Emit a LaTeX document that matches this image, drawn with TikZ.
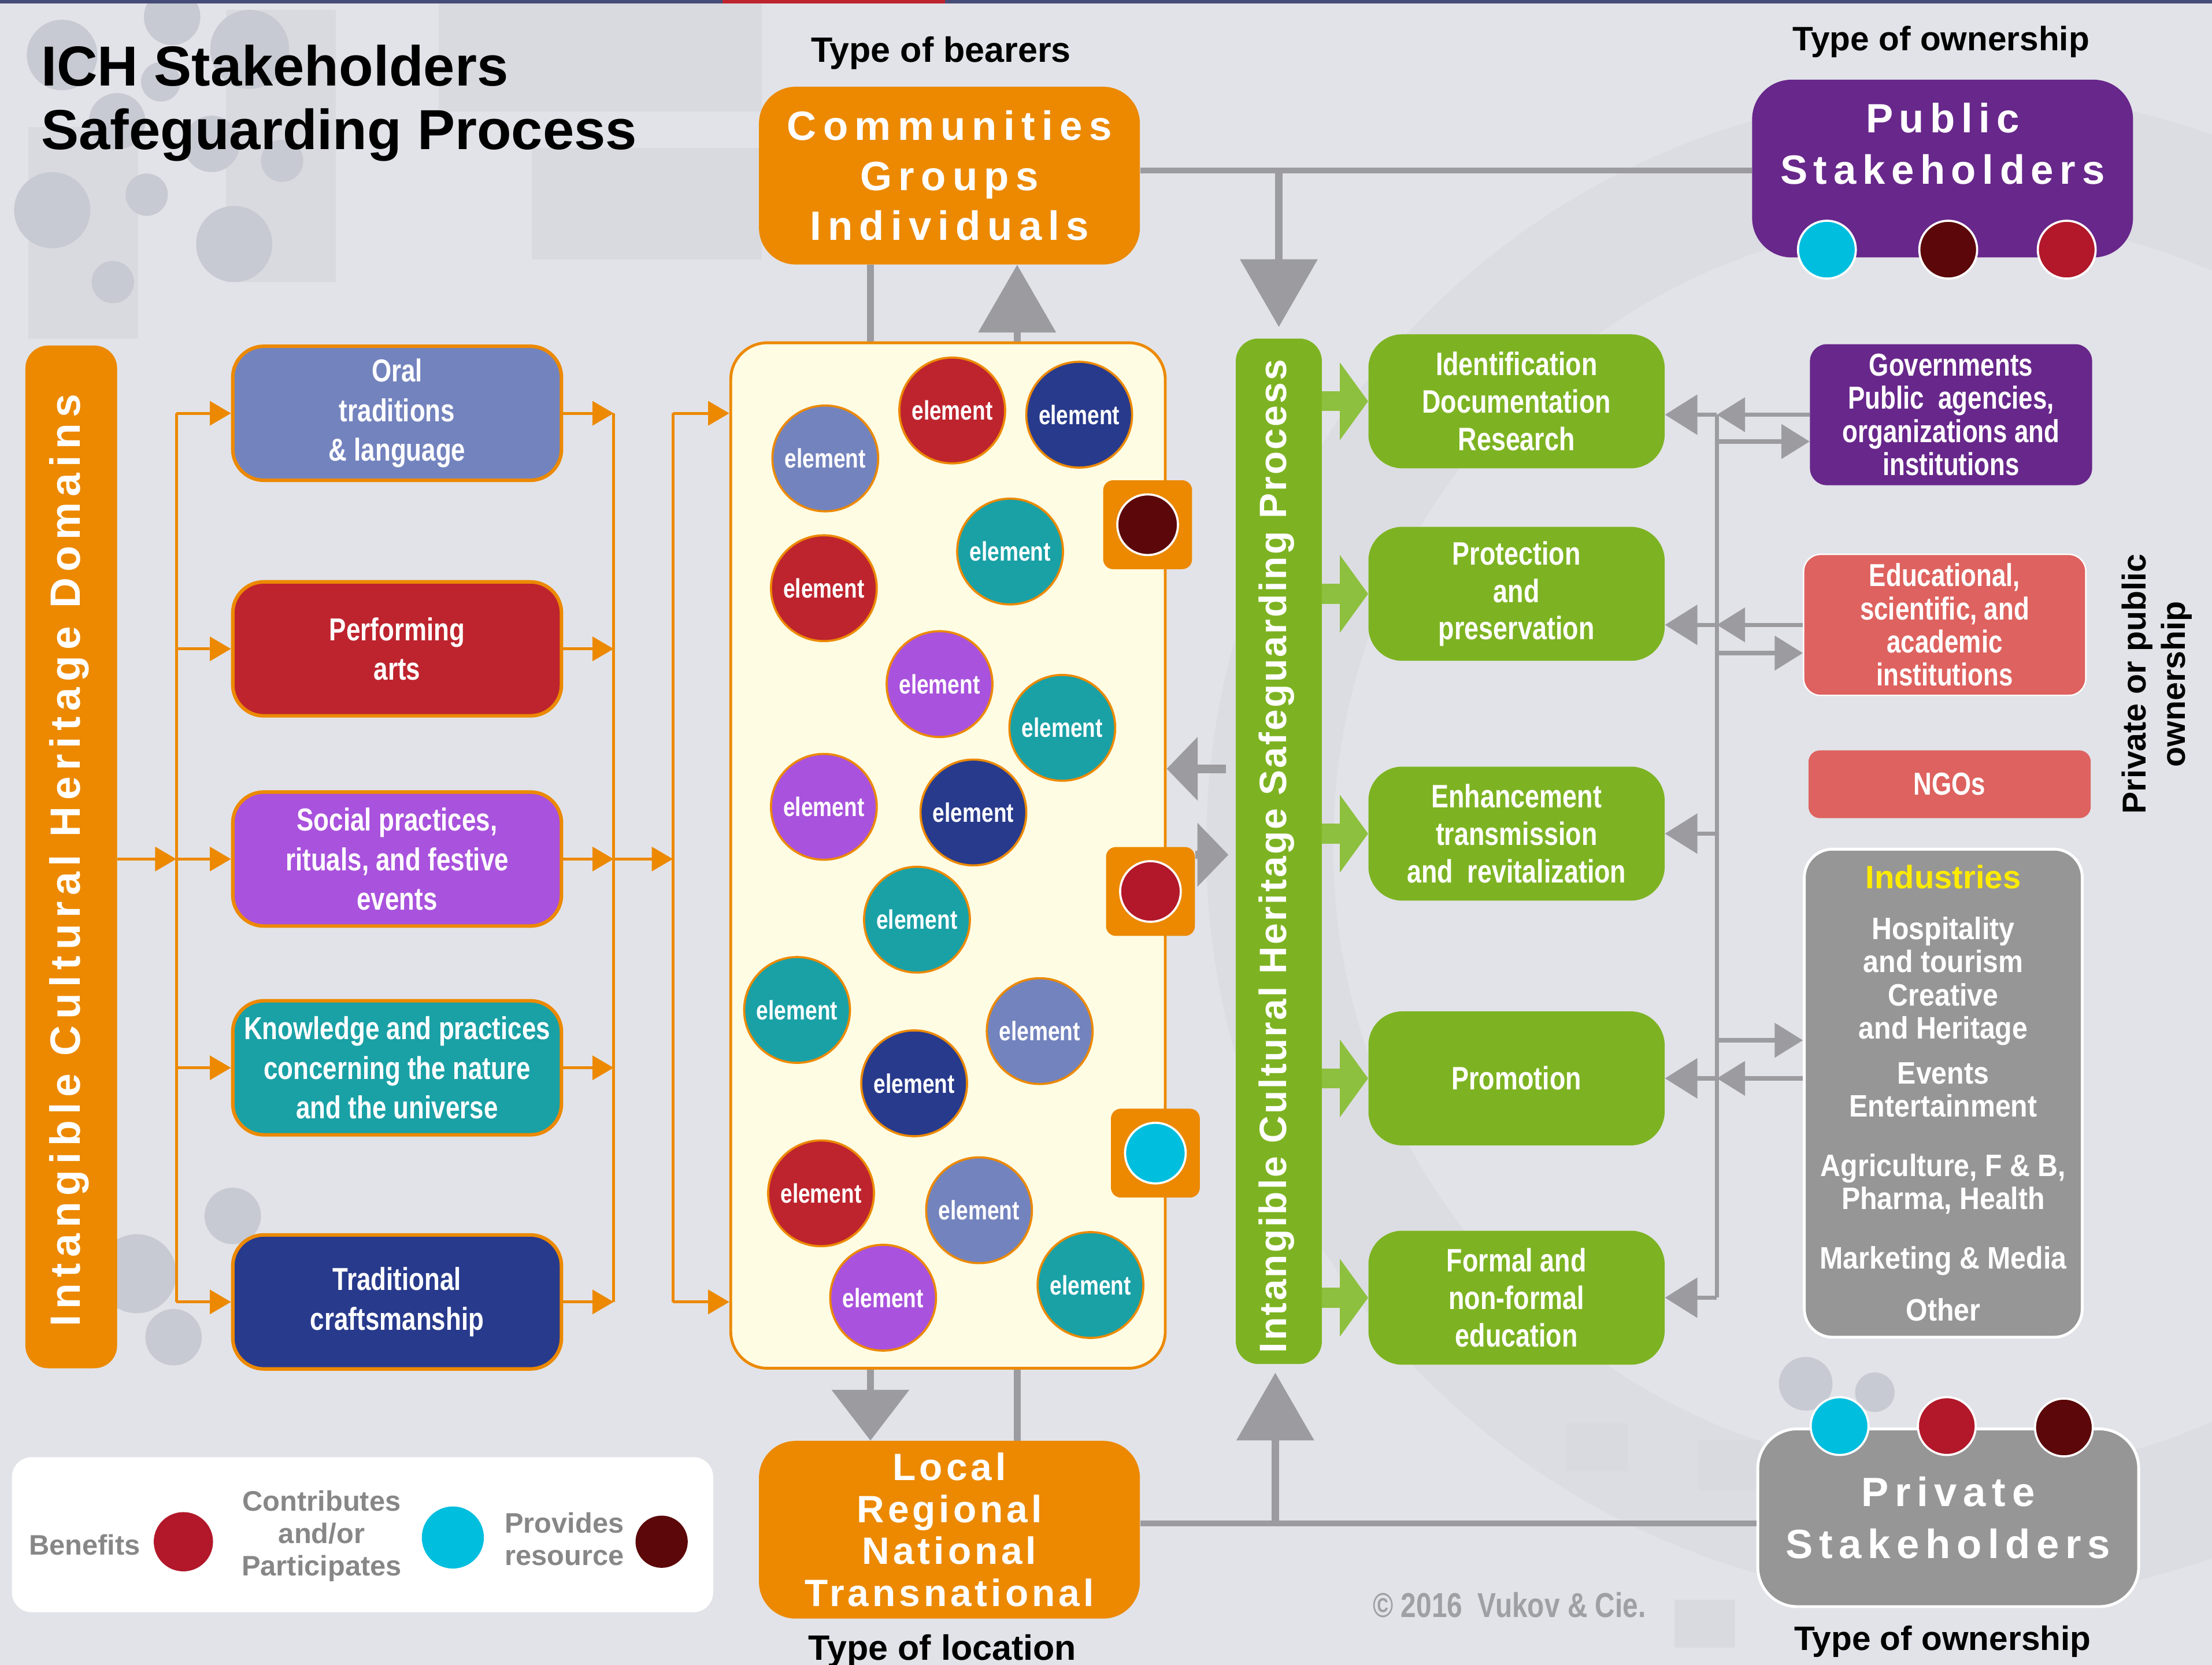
\documentclass[tikz,border=0pt]{standalone}
\usepackage{fontspec}
\setmainfont{Liberation Sans}
\newfontfamily\condfont{Liberation Sans}[FakeStretch=0.8]
\newfontfamily\semicondfont{Liberation Sans}[FakeStretch=0.9]
\usetikzlibrary{arrows.meta}

\definecolor{bggray}{RGB}{226,227,232}
\definecolor{bgdark}{RGB}{217,218,223}
\definecolor{bgring}{RGB}{220,221,226}
\definecolor{bgdot}{RGB}{199,202,210}
\definecolor{ichorange}{RGB}{236,137,0}
\definecolor{pubpurple}{RGB}{104,39,139}
\definecolor{oralblue}{RGB}{115,131,190}
\definecolor{perfred}{RGB}{190,36,46}
\definecolor{socviolet}{RGB}{169,82,221}
\definecolor{knowteal}{RGB}{25,161,166}
\definecolor{craftnavy}{RGB}{40,58,140}
\definecolor{poolcream}{RGB}{255,252,228}
\definecolor{procgreen}{RGB}{125,179,34}
\definecolor{arrowgreen}{RGB}{141,192,62}
\definecolor{salmon}{RGB}{222,98,95}
\definecolor{boxgray}{RGB}{150,150,150}
\definecolor{linkgray}{RGB}{156,156,160}
\definecolor{benefitred}{RGB}{178,24,42}
\definecolor{contribcyan}{RGB}{0,190,222}
\definecolor{resourcered}{RGB}{92,8,10}
\definecolor{indyellow}{RGB}{255,235,0}
\definecolor{legendgray}{RGB}{135,135,135}
\definecolor{copygray}{RGB}{158,160,164}
\definecolor{stripnavy}{RGB}{70,76,120}

\tikzset{
  domainbox/.style={draw=ichorange, line width=2.5pt, rounded corners=22pt, minimum width=233pt, minimum height=95pt, inner sep=0pt, align=center, text=white, font=\condfont\bfseries\fontsize{22.5}{28}\selectfont},
  procbox/.style={fill=procgreen, rounded corners=24pt, minimum width=210pt, minimum height=95pt, inner sep=0pt, align=center, text=white, font=\condfont\bfseries\fontsize{23}{26.5}\selectfont},
  sidebox/.style={rounded corners=12pt, minimum width=200pt, inner sep=0pt, align=center, text=white, font=\condfont\bfseries\fontsize{22.5}{23.5}\selectfont},
  bearerbox/.style={fill=ichorange, rounded corners=26pt, minimum width=270pt, minimum height=126pt, inner sep=0pt, align=center, text=white, font=\bfseries\fontsize{29}{35.5}\selectfont\addfontfeature{LetterSpace=16}},
  stakebox/.style={rounded corners=28pt, minimum width=270pt, minimum height=126pt, inner sep=0pt, align=center, text=white, font=\bfseries\fontsize{29}{36.5}\selectfont\addfontfeature{LetterSpace=15}},
  vbar/.style={rounded corners=16pt, inner sep=0pt},
  elem/.style={circle, fill=#1, draw=ichorange, line width=1.5pt, minimum size=75pt, inner sep=0pt, text=white, font=\condfont\bfseries\fontsize{19}{19}\selectfont},
  tabbox/.style={fill=ichorange, rounded corners=7pt, minimum size=63pt, inner sep=0pt},
  ownerdot/.style={circle, fill=#1, draw=white, line width=1.5pt, minimum size=41pt, inner sep=0pt},
  headtext/.style={inner sep=0pt, font=\bfseries\fontsize{25}{25}\selectfont},
  legtext/.style={inner sep=0pt, align=center, text=legendgray, font=\bfseries\fontsize{20}{23}\selectfont},
  oline/.style={draw=ichorange, line width=2pt},
  oarrow/.style={oline, -{Triangle[length=15pt,width=17pt]}},
  gline/.style={draw=linkgray, line width=5pt},
  gbig/.style={gline, -{Triangle[length=48pt,width=54pt]}},
  gmid/.style={draw=linkgray, line width=6pt, -{Triangle[length=22pt,width=44pt]}},
  gsmall/.style={draw=linkgray, line width=3pt, -{Triangle[length=23pt,width=28pt]}},
  gtiny/.style={draw=linkgray, line width=3pt, -{Triangle[length=20pt,width=24pt]}},
  garrow/.style={draw=arrowgreen, line width=14pt, -{Triangle[length=20pt,width=54pt]}}
}

\begin{document}
\begin{tikzpicture}[x=1pt,y=1pt,yscale=-1,xscale=1]
\useasboundingbox (0,0) rectangle (1568,1180.4);

% background
\fill[bggray] (0,0) rectangle (1568,1180.4);
\fill[bgdark] (311,0) rectangle (540,79);
\fill[bgdark] (377,105) rectangle (540,184);
\fill[bgdark] (160,7) rectangle (238,200);
\fill[bgdark] (20,90) rectangle (98,240);
\draw[bgring, line width=90pt] (1390,600) circle[radius=490];
\fill[bgdark] (1110,1009) rectangle (1154,1043);
\fill[bgdark] (1204,1021) rectangle (1248,1057);
\fill[bgdark] (1187,1134) rectangle (1230,1168);
\foreach \cx/\cy/\r in {44/39/25, 122/12/20, 177/35/28, 114/58/14, 83/86/20, 150/102/20, 200/114/15, 37/149/27, 104/138/15, 166/173/27, 80/200/15, 97/903/28, 165/862/20, 123/948/20, 1280/981/19, 1329/987/14}
  \fill[bgdot] (\cx,\cy) circle[radius=\r];
\fill[stripnavy] (0,0) rectangle (512,2.5);
\fill[perfred] (512,0) rectangle (670,2.5);
\fill[stripnavy] (670,0) rectangle (1568,2.5);

% title
\node[anchor=base west, inner sep=0pt, font=\bfseries\fontsize{40}{40}\selectfont] (title1) at (29,61) {ICH Stakeholders};
\node[anchor=base west, inner sep=0pt, font=\bfseries\fontsize{40}{40}\selectfont] (title2) at (29,106) {Safeguarding Process};

% headings
\node[headtext, anchor=base] (bearers) at (667,44) {Type of bearers};
\node[headtext, anchor=base, font=\bfseries\fontsize{24}{24}\selectfont] (owntop) at (1376,36) {Type of ownership};
\node[headtext, anchor=base, font=\bfseries\fontsize{24}{24}\selectfont] (ownbot) at (1377,1170) {Type of ownership};
\node[headtext, anchor=base] (location) at (668,1177) {Type of location};
\node[rotate=90, align=center, inner sep=0pt, font=\bfseries\fontsize{23.5}{28}\selectfont] (ownside) at (1529,485) {Private or public\\ownership};

% domains
\node[vbar, fill=ichorange, minimum width=65pt, minimum height=725pt] (domainbar) at (50.5,607.5) {};
\node[rotate=90, inner sep=0pt, text=white, font=\bfseries\fontsize{30}{30}\selectfont\addfontfeature{LetterSpace=14}] (domainlabel) at (49,610) {Intangible Cultural Heritage Domains};
\node[domainbox, fill=oralblue] (dom1) at (281.5,293) {Oral\\traditions\\\& language};
\node[domainbox, fill=perfred] (dom2) at (281.5,460) {Performing\\arts};
\node[domainbox, fill=socviolet] (dom3) at (281.5,609) {Social practices,\\rituals, and festive\\events};
\node[domainbox, fill=knowteal] (dom4) at (281.5,757) {Knowledge and practices\\concerning the nature\\and the universe};
\node[domainbox, fill=craftnavy] (dom5) at (281.5,923) {Traditional\\craftsmanship};

% elements
\node[draw=ichorange, line width=2pt, fill=poolcream, rounded corners=26pt, minimum width=308pt, minimum height=727pt, inner sep=0pt] (pool) at (672,606.5) {};
\foreach \x/\y/\c [count=\i] in {585/325/oralblue, 675/291/perfred, 765/294/craftnavy, 716/391/knowteal, 584/417/perfred, 666/485/socviolet, 753/516/knowteal, 584/572/socviolet, 690/576/craftnavy, 650/652/knowteal, 565/716/knowteal, 737/731/oralblue, 648/768/craftnavy, 582/846/perfred, 694/858/oralblue, 626/920/socviolet, 773/911/knowteal}
  \node[elem=\c] (el\i) at (\x,\y) {element};
\node[tabbox] (tab1) at (813.5,372) {};
\node[ownerdot=resourcered, minimum size=43pt] (tabdot1) at (tab1) {};
\node[tabbox] (tab2) at (815.5,632) {};
\node[ownerdot=benefitred, minimum size=43pt] (tabdot2) at (tab2) {};
\node[tabbox] (tab3) at (819,817.5) {};
\node[ownerdot=contribcyan, minimum size=43pt] (tabdot3) at (tab3) {};

% bearers and location
\node[bearerbox] (comm) at (673,124.5) {Communities\\Groups\\Individuals};
\node[bearerbox, font=\bfseries\fontsize{27}{29.7}\selectfont\addfontfeature{LetterSpace=9}] (loc) at (673,1084.5) {Local\\Regional\\National\\Transnational};

% stakeholders
\node[stakebox, fill=pubpurple] (pub) at (1377,119.5) {};
\node[inner sep=0pt, align=center, text=white, font=\bfseries\fontsize{29}{36.5}\selectfont\addfontfeature{LetterSpace=15}] (publabel) at (1377,102) {Public\\Stakeholders};
\node[ownerdot=contribcyan] (pubdot1) at (1295,177) {};
\node[ownerdot=resourcered] (pubdot2) at (1381,177) {};
\node[ownerdot=benefitred] (pubdot3) at (1465,177) {};
\node[stakebox, fill=boxgray, draw=white, line width=2pt] (priv) at (1381,1076) {Private\\Stakeholders};
\node[ownerdot=contribcyan] (privdot1) at (1304,1011) {};
\node[ownerdot=benefitred] (privdot2) at (1380,1011) {};
\node[ownerdot=resourcered] (privdot3) at (1463,1012) {};

% safeguarding process
\node[vbar, fill=procgreen, minimum width=61pt, minimum height=727pt] (processbar) at (906.5,603.5) {};
\node[rotate=90, inner sep=0pt, text=white, font=\bfseries\fontsize{27}{27}\selectfont\addfontfeature{LetterSpace=5}] (processlabel) at (905,607) {Intangible Cultural Heritage Safeguarding Process};
\node[procbox] (proc1) at (1075,284.5) {Identification\\Documentation\\Research};
\node[procbox] (proc2) at (1075,421) {Protection\\and\\preservation};
\node[procbox] (proc3) at (1075,591) {Enhancement\\transmission\\and\ \ revitalization};
\node[procbox] (proc4) at (1075,764.5) {Promotion};
\node[procbox] (proc5) at (1075,920) {Formal and\\non-formal\\education};

% stakeholder groups
\node[sidebox, fill=pubpurple, minimum height=100pt] (gov) at (1383,294) {Governments\\Public\ \ agencies,\\organizations and\\institutions};
\node[sidebox, fill=salmon, draw=white, line width=1pt, minimum height=100pt] (edu) at (1378.5,443) {Educational,\\scientific, and\\academic\\institutions};
\node[sidebox, fill=salmon, minimum height=48pt, rounded corners=8pt] (ngo) at (1382,556) {NGOs};
\node[sidebox, fill=boxgray, draw=white, line width=2pt, minimum width=197pt, minimum height=346pt, rounded corners=20pt, font=\semicondfont\bfseries\fontsize{22}{23.5}\selectfont] (ind) at (1377.5,775) {{\color{indyellow}\normalfont\bfseries\fontsize{23}{23.5}\selectfont Industries}\\[12.5pt] Hospitality\\and tourism\\Creative\\and Heritage\\[8.5pt] Events\\Entertainment\\[18.5pt] Agriculture, F \& B,\\Pharma, Health\\[18.5pt] Marketing \& Media\\[13.5pt] Other};

% legend
\node[fill=white, rounded corners=14pt, minimum width=497pt, minimum height=110pt, inner sep=0pt] (legend) at (257,1088) {};
\node[legtext] (lgben) at (60,1095) {Benefits};
\node[ownerdot=benefitred, draw=none, minimum size=42pt] (lgbendot) at (130,1093) {};
\node[legtext] (lgcon) at (228,1089) {Contributes\\and/or\\Participates};
\node[ownerdot=contribcyan, draw=none, minimum size=44pt] (lgcondot) at (321,1090) {};
\node[legtext] (lgpro) at (400,1091) {Provides\\resource};
\node[ownerdot=resourcered, draw=none, minimum size=37pt] (lgprodot) at (469,1093) {};

\node[inner sep=0pt, text=copygray, font=\condfont\bfseries\fontsize{24.5}{24.5}\selectfont] (copyr) at (1070,1138) {© 2016\ \ Vukov \& Cie.};

% orange connectors
\coordinate (busA) at (125,0);
\coordinate (busB) at (435,0);
\coordinate (busC) at (477,0);
\draw[oarrow] (domainbar.east |- dom3.west) -- (busA |- dom3.west);
\draw[oline] (busA |- dom1.west) -- (busA |- dom5.west);
\foreach \i in {1,...,5} {
  \draw[oarrow] (busA |- dom\i.west) -- (dom\i.west);
  \draw[oarrow] (dom\i.east) -- (busB |- dom\i.east);
}
\draw[oline] (busB |- dom1.east) -- (busB |- dom5.east);
\draw[oarrow] (busB |- dom3.east) -- (busC |- dom3.east);
\draw[oline] (busC |- dom1.east) -- (busC |- dom5.east);
\draw[oarrow] (busC |- dom1.east) -- (pool.west |- dom1.east);
\draw[oarrow] (busC |- dom5.east) -- (pool.west |- dom5.east);

% gray connectors, top
\coordinate (upL) at (617,0);
\coordinate (upR) at (721,0);
\coordinate (topjoint) at (906.5,121);
\draw[gline, line width=4pt] (comm.east |- topjoint) -- (pub.west |- topjoint);
\draw[gbig] (topjoint) -- ([yshift=-8pt]processbar.north);
\draw[gline] (comm.south -| upL) -- (pool.north -| upL);
\draw[gbig] (pool.north -| upR) -- (comm.south -| upR);

% gray connectors, bottom
\coordinate (botjoint) at (904,1080);
\draw[gline, line width=4pt] (loc.east |- botjoint) -- (priv.west |- botjoint);
\draw[gbig] (botjoint) -- ([yshift=6pt]processbar.south -| botjoint);
\draw[gline, -{Triangle[length=36pt,width=54pt]}] (pool.south -| upL) -- (loc.north -| upL);
\draw[gline] (pool.south -| upR) -- (loc.north -| upR);

% pool and process
\coordinate (midL) at (0,545);
\coordinate (midR) at (0,606);
\draw[gmid, shorten <=7pt] (processbar.west |- midL) -- (pool.east |- midL);
\draw[gmid, shorten >=5pt] (tab2.east |- midR) -- (processbar.west |- midR);
\foreach \i in {1,...,5}
  \draw[garrow] (processbar.east |- proc\i.west) -- (proc\i.west);

% stakeholders to process
\coordinate (rbus) at (1217,0);
\draw[draw=linkgray, line width=3pt] (rbus |- gov.west) -- (rbus |- proc5.east);
\draw[gsmall] (rbus |- gov.west) -- (proc1.east |- gov.west);
\draw[gsmall] (rbus |- edu.west) -- (proc2.east |- edu.west);
\draw[gsmall] (rbus |- proc3.east) -- (proc3.east);
\draw[gsmall] (rbus |- proc4.east) -- (proc4.east);
\draw[gsmall] (rbus |- proc5.east) -- (proc5.east);
\draw[gtiny] (gov.west) -- (rbus |- gov.west);
\draw[gtiny] ([yshift=19pt]rbus |- gov.west) -- ([yshift=19pt]gov.west);
\draw[gtiny] (edu.west) -- (rbus |- edu.west);
\draw[gtiny] ([yshift=20pt]rbus |- edu.west) -- ([yshift=20pt]edu.west);
\draw[gtiny] (ind.west |- proc4.east) -- (rbus |- proc4.east);
\draw[gtiny] ([yshift=-27pt]rbus |- proc4.east) -- ([yshift=-27pt]ind.west |- proc4.east);

\end{tikzpicture}
\end{document}
